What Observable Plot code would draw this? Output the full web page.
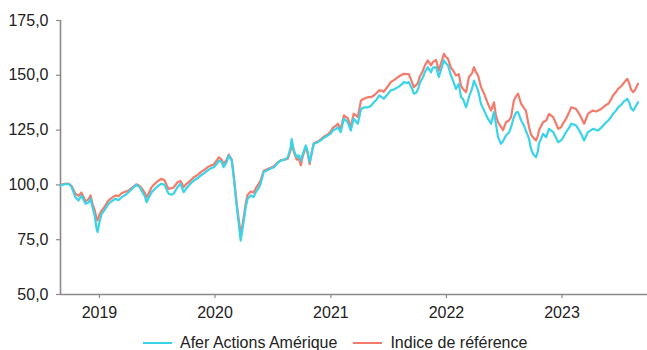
<!DOCTYPE html>
<html>
<head>
<meta charset="utf-8">
<script src="https://cdn.jsdelivr.net/npm/d3@7"></script>
<script src="https://cdn.jsdelivr.net/npm/@observablehq/plot@0.6"></script>
<style>
  html, body { margin: 0; padding: 0; background: #fff; overflow: hidden; }
  #wrap { position: relative; width: 647px; height: 350px; }
  #legend { position: absolute; left: 143px; top: 333px; display: flex; align-items: center;
    font-family: "Liberation Sans", Arial, sans-serif; font-size: 16px; color: #222; line-height: 20px; white-space: nowrap; }
  .item { display: flex; align-items: center; }
  .sw { width: 29px; height: 2px; margin-right: 8px; }
</style>
</head>
<body>
<div id="wrap"><div id="chart"></div><div id="legend"></div></div>
<script>
const seriesNames = ["Afer Actions Amérique", "Indice de référence"];
const seriesColors = ["#3ad3e8", "#f27b6c"];
const yTicks = [50, 75, 100, 125, 150, 175];
const xTickYears = ["2019", "2020", "2021", "2022", "2023"];
const xDomain = ["2018-08-31", "2023-09-28"];

const dates = [
"2018-08-31","2018-09-13","2018-09-25","2018-10-05","2018-10-17","2018-10-27","2018-11-05","2018-11-18","2018-11-28","2018-12-04",
"2018-12-10","2018-12-17","2018-12-23","2018-12-26","2019-01-01","2019-01-08","2019-01-17","2019-01-30","2019-02-08","2019-02-21",
"2019-03-02","2019-03-12","2019-03-25","2019-04-03","2019-04-16","2019-04-28","2019-05-08","2019-05-14","2019-05-24","2019-05-30",
"2019-06-05","2019-06-15","2019-06-27","2019-07-07","2019-07-16","2019-07-26","2019-08-01","2019-08-07","2019-08-17","2019-08-23",
"2019-09-05","2019-09-14","2019-09-24","2019-10-03","2019-10-10","2019-10-26","2019-11-07","2019-11-17","2019-11-29","2019-12-09",
"2019-12-18","2019-12-28","2020-01-06","2020-01-13","2020-01-22","2020-01-28","2020-02-07","2020-02-13","2020-02-23","2020-02-29",
"2020-03-10","2020-03-16","2020-03-22","2020-03-28","2020-04-01","2020-04-07","2020-04-13","2020-04-23","2020-05-02","2020-05-09",
"2020-05-18","2020-05-24","2020-06-03","2020-06-12","2020-06-25","2020-07-05","2020-07-17","2020-07-27","2020-08-08","2020-08-18",
"2020-08-27","2020-08-30","2020-09-06","2020-09-15","2020-09-22","2020-09-28","2020-10-04","2020-10-14","2020-10-20","2020-10-26",
"2020-11-02","2020-11-08","2020-11-21","2020-11-30","2020-12-10","2020-12-22","2021-01-01","2021-01-07","2021-01-17","2021-01-23",
"2021-02-01","2021-02-11","2021-02-17","2021-02-23","2021-03-05","2021-03-14","2021-03-27","2021-04-06","2021-04-15","2021-04-28",
"2021-05-07","2021-05-17","2021-05-26","2021-06-02","2021-06-11","2021-06-17","2021-06-30","2021-07-09","2021-07-19","2021-08-01",
"2021-08-10","2021-08-20","2021-08-29","2021-09-04","2021-09-14","2021-09-20","2021-09-27","2021-10-03","2021-10-09","2021-10-19",
"2021-10-25","2021-11-03","2021-11-13","2021-11-19","2021-11-29","2021-12-08","2021-12-18","2021-12-24","2021-12-30","2022-01-06",
"2022-01-15","2022-01-22","2022-01-31","2022-02-09","2022-02-16","2022-02-22","2022-03-04","2022-03-13","2022-03-23","2022-03-29",
"2022-04-04","2022-04-11","2022-04-20","2022-04-30","2022-05-12","2022-05-22","2022-05-31","2022-06-06","2022-06-13","2022-06-22",
"2022-06-29","2022-07-08","2022-07-18","2022-07-24","2022-08-02","2022-08-09","2022-08-15","2022-08-25","2022-09-03","2022-09-09",
"2022-09-19","2022-09-25","2022-10-01","2022-10-11","2022-10-17","2022-10-20","2022-11-02","2022-11-12","2022-11-21","2022-12-04",
"2022-12-13","2022-12-20","2022-12-29","2023-01-04","2023-01-14","2023-01-23","2023-01-30","2023-02-08","2023-02-14","2023-02-24",
"2023-03-02","2023-03-12","2023-03-24","2023-04-03","2023-04-09","2023-04-19","2023-04-25","2023-05-04","2023-05-11","2023-05-20",
"2023-05-27","2023-06-05","2023-06-11","2023-06-21","2023-06-27","2023-07-07","2023-07-13","2023-07-26","2023-08-01","2023-08-07",
"2023-08-14","2023-08-20","2023-08-29"
];

const fund = [
99.7,100.3,100.5,99.0,94.4,92.9,95.2,91.4,92.0,93.7,
89.8,86.0,80.0,78.5,83.0,86.8,88.5,91.4,92.5,93.7,
93.0,94.4,95.5,96.7,98.5,100.0,99.0,97.4,95.0,92.1,
94.0,96.7,98.5,99.7,100.5,100.0,98.0,96.0,95.5,96.0,
99.0,100.5,96.7,98.5,99.7,102.0,103.0,104.3,105.5,106.6,
107.5,108.1,109.5,111.1,110.5,108.1,110.5,113.4,111.1,103.5,
89.8,82.3,74.6,80.0,83.8,89.8,93.7,95.2,94.5,96.7,
98.5,100.5,106.0,106.5,107.5,108.1,110.0,111.1,111.5,112.6,
117.0,121.0,115.7,112.6,113.5,111.1,114.0,118.0,115.0,110.4,
115.0,118.8,119.5,120.3,121.5,122.5,123.5,124.8,125.5,126.3,
124.1,130.2,129.5,128.6,124.8,130.2,127.9,134.5,135.4,135.4,
136.0,137.7,139.0,140.8,140.0,139.3,141.5,143.1,143.5,144.6,
145.5,146.9,146.5,146.9,144.0,141.6,142.0,143.5,146.5,149.2,
151.5,153.7,151.4,153.5,153.7,149.2,154.0,156.8,155.5,154.5,
150.0,147.6,143.8,146.1,140.0,139.3,135.4,140.0,144.0,147.6,
145.5,143.1,137.0,133.9,130.2,127.9,133.2,128.0,121.8,118.7,
120.0,122.5,124.0,126.3,130.9,133.0,133.2,129.4,127.0,124.8,
121.0,116.5,114.2,112.6,115.5,118.7,123.3,121.8,125.6,124.1,
121.5,119.5,120.3,121.5,124.1,126.0,127.9,127.5,127.1,125.0,
123.3,120.3,124.1,125.0,125.6,125.0,124.8,126.0,127.1,128.5,
129.4,131.0,132.4,134.0,135.4,136.5,137.7,139.3,137.7,135.0,
133.9,135.4,137.7
];

const benchmark = [
100.0,100.5,100.6,99.5,96.0,95.0,96.5,92.5,93.5,95.2,
91.5,88.5,84.5,83.8,86.5,88.3,90.0,92.9,94.0,95.2,
94.8,96.2,97.0,97.4,99.0,100.3,99.5,98.5,96.5,94.4,
96.0,99.0,100.8,102.0,102.8,102.0,100.0,98.2,98.5,98.8,
101.2,101.8,99.0,100.5,101.2,103.5,104.5,105.8,107.0,108.1,
108.8,109.3,111.0,112.6,111.5,109.5,111.5,113.8,111.5,104.5,
91.0,84.0,77.7,82.0,85.5,91.5,95.5,97.0,96.5,98.5,
100.5,102.0,106.5,107.0,107.8,108.5,110.3,111.3,111.5,112.0,
116.0,119.5,115.0,111.5,112.0,108.9,113.0,117.5,114.0,109.5,
115.0,119.0,119.8,120.8,122.0,123.0,124.5,126.0,127.0,127.9,
125.5,131.7,131.0,130.5,126.3,132.5,131.0,138.5,139.3,140.0,
140.0,140.8,142.0,143.1,143.0,142.5,145.0,146.9,147.8,149.2,
150.0,150.7,150.5,150.5,147.0,144.6,145.5,146.5,149.5,152.2,
154.5,156.8,154.5,156.0,157.0,152.2,157.0,159.8,158.5,157.5,
153.5,152.2,149.9,150.5,145.3,143.8,142.3,149.2,151.0,153.7,
151.5,149.9,144.6,141.6,137.0,133.9,137.7,132.0,128.6,126.5,
125.0,128.6,129.5,130.9,138.5,140.5,141.6,137.0,135.0,133.9,
126.3,123.0,121.8,120.3,122.5,124.8,128.6,129.4,132.4,130.9,
128.0,125.6,126.3,128.0,130.2,133.0,135.4,135.0,134.7,132.5,
130.9,127.9,132.4,133.5,133.9,133.5,133.9,134.5,135.4,136.5,
137.0,139.0,140.8,142.5,143.8,145.0,146.1,148.4,146.5,143.5,
142.3,143.5,146.1
];

const parse = d3.utcParse("%Y-%m-%d");
const rows = [];
dates.forEach((d, i) => {
  rows.push({date: parse(d), value: benchmark[i], series: seriesNames[1]});
});
dates.forEach((d, i) => {
  rows.push({date: parse(d), value: fund[i], series: seriesNames[0]});
});

const fmtY = v => v.toFixed(1).replace(".", ",");
const xTicks = xTickYears.map(y => parse(y + "-01-01"));
const domain = xDomain.map(parse);
const axisColor = "#8a8a8a";
const textColor = "#222";

const chart = Plot.plot({
  width: 647,
  height: 325,
  marginTop: 20,
  marginBottom: 31,
  marginLeft: 60,
  marginRight: 0,
  style: {fontFamily: "'Liberation Sans', Arial, sans-serif", fontSize: "16px", background: "#fff"},
  x: {type: "utc", domain},
  y: {domain: [yTicks[0], yTicks[yTicks.length - 1]]},
  color: {domain: seriesNames, range: seriesColors},
  marks: [
    Plot.ruleX([domain[0]], {y1: yTicks[0], y2: yTicks[yTicks.length - 1], stroke: axisColor, strokeWidth: 1.6}),
    Plot.ruleY([yTicks[0]], {stroke: axisColor, strokeWidth: 1.6}),
    Plot.axisY({ticks: yTicks, tickFormat: fmtY, tickSize: 4, tickPadding: 8, stroke: axisColor, fill: textColor, label: null, strokeWidth: 1.2}),
    Plot.axisX({ticks: xTicks, tickFormat: d3.utcFormat("%Y"), tickSize: 4, tickPadding: 8, stroke: axisColor, fill: textColor, label: null, strokeWidth: 1.2}),
    Plot.line(rows.filter(r => r.series === seriesNames[1]), {x: "date", y: "value", stroke: "series", strokeWidth: 2.2}),
    Plot.line(rows.filter(r => r.series === seriesNames[0]), {x: "date", y: "value", stroke: "series", strokeWidth: 2.2})
  ]
});
document.getElementById("chart").appendChild(chart);

const legend = document.getElementById("legend");
seriesNames.forEach((name, i) => {
  const item = document.createElement("div");
  item.className = "item";
  if (i > 0) item.style.marginLeft = "16px";
  const sw = document.createElement("div");
  sw.className = "sw";
  sw.style.background = seriesColors[i];
  const t = document.createElement("span");
  t.textContent = name;
  item.appendChild(sw);
  item.appendChild(t);
  legend.appendChild(item);
});
</script>
</body>
</html>
